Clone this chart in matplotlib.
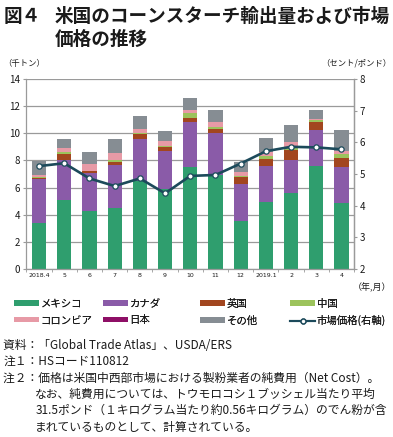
import numpy as np
import matplotlib as mpl
import matplotlib.pyplot as plt
from matplotlib.patches import Patch
from matplotlib.lines import Line2D


MONTHS = ["2018.4", "5", "6", "7", "8", "9", "10", "11", "12", "2019.1", "2", "3", "4"]
MEXICO = np.array([3.40, 5.05, 4.25, 4.50, 6.50, 5.90, 7.55, 6.90, 3.55, 4.95, 5.60, 7.60, 4.85])
CANADA = np.array([3.20, 2.95, 2.85, 3.15, 3.10, 2.80, 3.25, 3.15, 2.75, 2.65, 2.40, 2.65, 2.70])
UK = np.array([0.10, 0.50, 0.10, 0.20, 0.35, 0.30, 0.35, 0.25, 0.45, 0.50, 0.75, 0.60, 0.65])
CHINA = np.array([0.05, 0.10, 0.05, 0.15, 0.05, 0.05, 0.35, 0.20, 0.10, 0.25, 0.20, 0.15, 0.30])
COLOMBIA = np.array([0.15, 0.30, 0.50, 0.55, 0.35, 0.40, 0.20, 0.30, 0.30, 0.25, 0.40, 0.05, 0.20])
JAPAN = np.array([0.0] * 13)
OTHER = np.array([1.05, 0.70, 0.85, 1.05, 0.95, 0.75, 0.90, 0.90, 0.75, 1.05, 1.25, 0.70, 1.55])
PRICE = np.array([5.25, 5.34, 4.86, 4.62, 4.86, 4.39, 4.94, 4.97, 5.33, 5.72, 5.86, 5.84, 5.78])

SERIES = [
    ("メキシコ", MEXICO, "#2F9E6E"),
    ("カナダ", CANADA, "#8A5BA8"),
    ("英国", UK, "#A2461F"),
    ("中国", CHINA, "#9CC35C"),
    ("コロンビア", COLOMBIA, "#E79AA6"),
    ("日本", JAPAN, "#8E0F66"),
    ("その他", OTHER, "#868D93"),
]
LINE_COLOR = "#1C4A5B"
GRID = "#9A9A9A"
TEXT = "#1A1A1A"

NOTES = [
    (0, "資料：「Global Trade Atlas」、USDA/ERS"),
    (0, "注１：HSコード110812"),
    (0, "注２：価格は米国中西部市場における製粉業者の純費用（Net Cost）。"),
    (1, "なお、純費用については、トウモロコシ１ブッシェル当たり平均"),
    (1, "31.5ポンド（１キログラム当たり約0.56キログラム）のでん粉が含"),
    (1, "まれているものとして、計算されている。"),
]


def apply_style():
    mpl.rcParams.update({
        "font.family": ["Noto Sans CJK JP", "DejaVu Sans"],
        "text.color": TEXT,
        "xtick.color": TEXT,
        "ytick.color": TEXT,
    })


def main():
    apply_style()
    fig = plt.figure(figsize=(3.93, 4.37), dpi=100)
    ax = fig.add_axes([0.066, 0.3844, 0.835, 0.4348])
    x = np.arange(len(MONTHS))

    bottom = np.zeros(len(MONTHS))
    handles = []
    for name, vals, color in SERIES:
        ax.bar(x, vals, bottom=bottom, width=0.56, color=color, zorder=2)
        bottom += vals
        handles.append(Patch(facecolor=color, label=name))

    ax.set_xlim(-0.52, len(MONTHS) - 0.52)
    ax.set_ylim(0, 14)
    ax.set_yticks(np.arange(0, 15, 2))
    ax.grid(axis="y", color=GRID, linewidth=0.9, zorder=0)
    ax.set_axisbelow(True)
    ax.set_xticks(x, MONTHS, fontsize=4.5, family="DejaVu Sans")
    ax.set_xticks(np.arange(-0.5, len(MONTHS), 1), minor=True)
    ax.tick_params(axis="x", which="major", length=0, pad=3)
    ax.tick_params(axis="x", which="minor", length=2, color=GRID)
    ax.tick_params(axis="y", labelsize=7, length=2, color=GRID, pad=2)
    ax.spines["top"].set_visible(False)
    for s in ("left", "right", "bottom"):
        ax.spines[s].set_color(GRID)
        ax.spines[s].set_linewidth(0.9)

    ax2 = ax.twinx()
    ax2.plot(x, PRICE, color=LINE_COLOR, linewidth=1.9, marker="o", markersize=3.8,
             markerfacecolor="white", markeredgecolor=LINE_COLOR, markeredgewidth=0.9, zorder=5)
    ax2.set_ylim(2, 8)
    ax2.tick_params(axis="y", labelsize=7, length=2, color=GRID, pad=2)
    for s in ("top", "left", "bottom"):
        ax2.spines[s].set_visible(False)
    ax2.spines["right"].set_color(GRID)
    ax2.spines["right"].set_linewidth(0.9)

    price_handle = Line2D([0], [0], color=LINE_COLOR, linewidth=1.5, marker="o", markersize=3.5,
                          markerfacecolor="white", markeredgecolor=LINE_COLOR, label="市場価格(右軸)")
    handles.append(price_handle)
    # one small legend per column so the columns sit at fixed positions
    col_x = [0.035, 0.262, 0.509, 0.739]
    for c in range(4):
        pair = [handles[c], handles[c + 4]]
        leg = fig.legend(pair, [h.get_label() for h in pair],
                         loc="upper left", bbox_to_anchor=(col_x[c], 0.316), ncol=1,
                         frameon=False, fontsize=7.5, handlelength=2.4, handleheight=0.45,
                         handletextpad=0.15, labelspacing=0.62, borderaxespad=0,
                         borderpad=0)
        fig.add_artist(leg)

    fig.text(0.008, 0.985, "図４", fontsize=13.4, fontweight="bold", va="top")
    fig.text(0.14, 0.985, "米国のコーンスターチ輸出量および市場", fontsize=13.4,
             fontweight="bold", va="top")
    fig.text(0.14, 0.932, "価格の推移", fontsize=13.4, fontweight="bold", va="top")
    fig.text(0.008, 0.855, "（千トン）", fontsize=6, va="center")
    fig.text(0.995, 0.855, "（セント/ポンド）", fontsize=6, va="center", ha="right")
    fig.text(0.995, 0.342, "（年,月）", fontsize=6.5, va="center", ha="right")

    y0 = 0.21
    for i, (indent, line) in enumerate(NOTES):
        fig.text(0.008 + indent * 0.082, y0 - i * 0.0375, line, fontsize=8.5, va="center")

    fig.savefig("out.png", dpi=100)
    plt.close(fig)


if __name__ == "__main__":
    main()
